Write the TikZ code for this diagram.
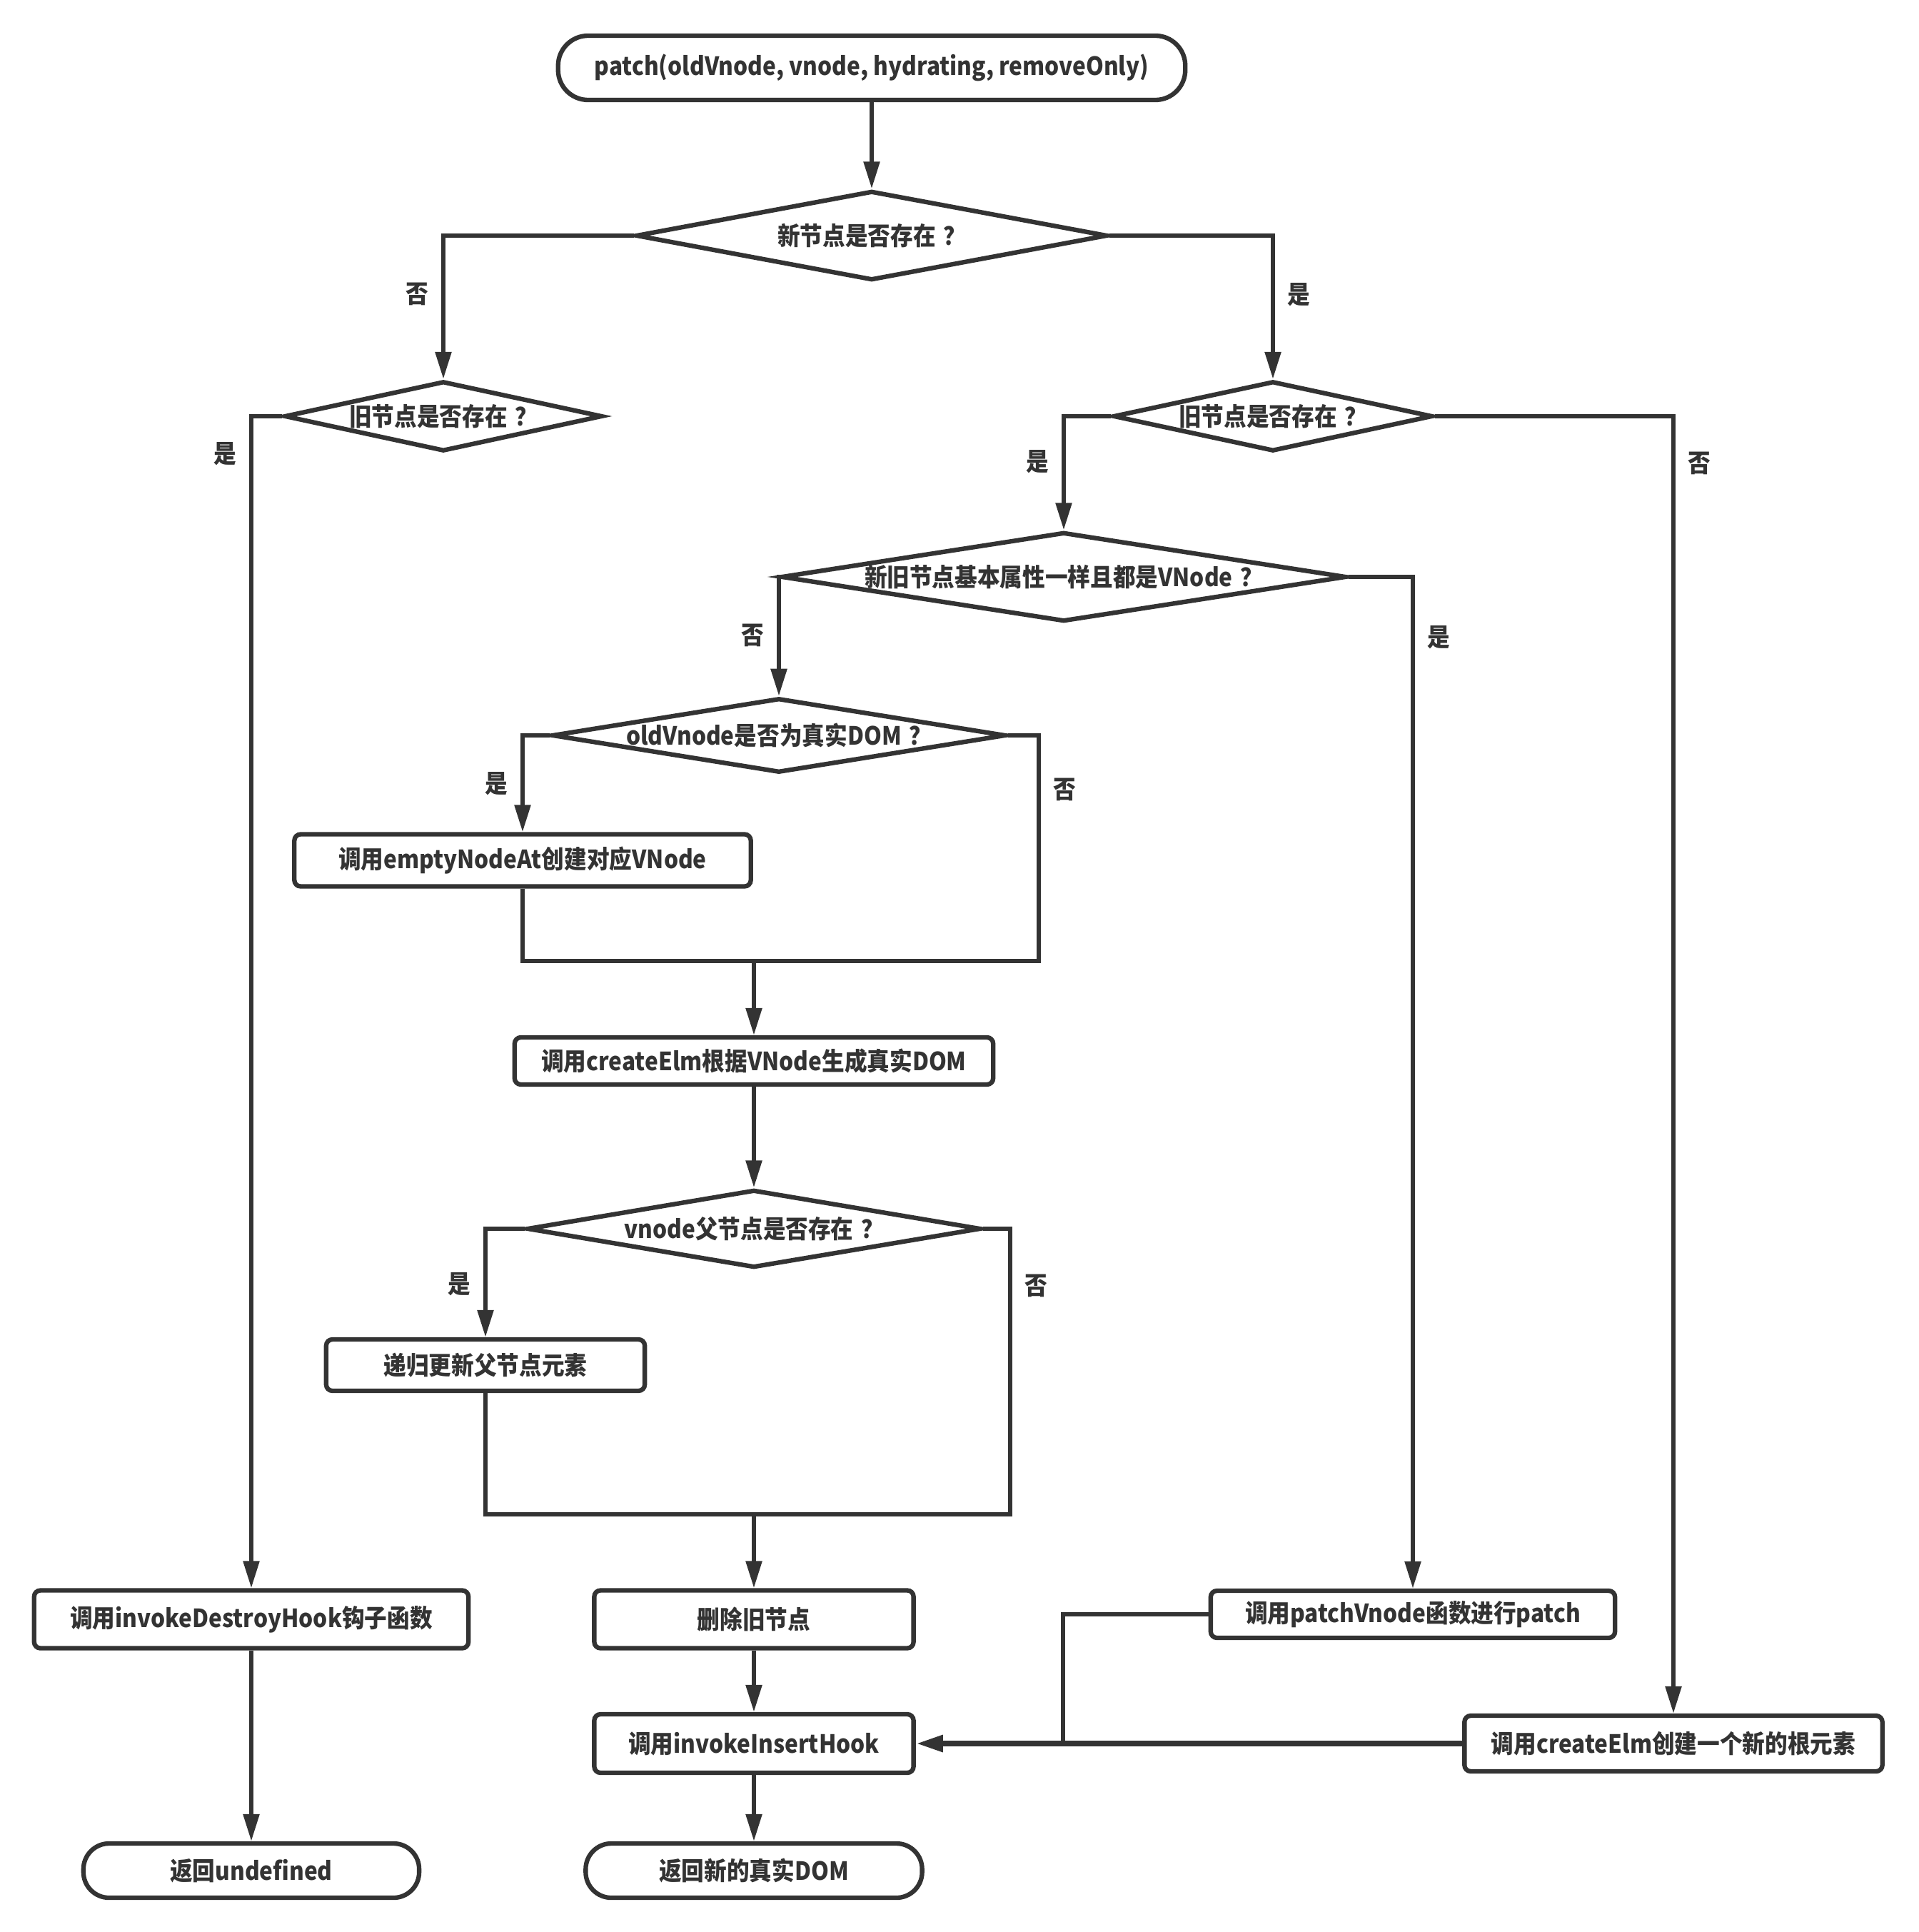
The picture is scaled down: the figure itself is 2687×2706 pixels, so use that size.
\documentclass[tikz,border=0pt]{standalone}
\usepackage{fontspec}
\setmainfont{Noto Sans CJK SC}[FakeStretch=0.9]
\usetikzlibrary{shapes.geometric,arrows.meta,positioning}
\definecolor{linegray}{RGB}{51,51,51}
\newcommand{\qm}{\hspace{0.3em}？}

\begin{document}
\begin{tikzpicture}[x=0.01cm, y=-0.01cm,
    every node/.style={font=\fontsize{10}{12}\selectfont\bfseries, text=linegray},
    box/.style={draw=linegray, line width=1.8pt, rounded corners=2.5pt, inner sep=0pt},
    term/.style={box, rounded corners=0.36cm},
    decision/.style={draw=linegray, line width=1.8pt, diamond, inner sep=0pt},
    line/.style={draw=linegray, line width=1.6pt},
    arrow/.style={line, -{Triangle[length=0.38cm, width=0.22cm]}},
    lbl/.style={inner sep=5pt}
]
    \useasboundingbox (0,0) rectangle (2687,2706);

    \node[term, minimum width=8.78cm, minimum height=0.9cm, rounded corners=0.42cm] (start) at (1221,95) {patch(oldVnode, vnode, hydrating, removeOnly)};
    \node[decision, minimum width=6.6cm, minimum height=1.25cm, aspect=5.3] (d1) at (1221,330) {新节点是否存在\qm};
    \node[decision, minimum width=4.45cm, minimum height=0.98cm, aspect=4.5] (d2) at (621,583) {旧节点是否存在\qm};
    \node[decision, minimum width=4.47cm, minimum height=0.98cm, aspect=4.5] (d3) at (1783,583) {旧节点是否存在\qm};
    \node[decision, minimum width=7.91cm, minimum height=1.25cm, aspect=6.3] (d4) at (1490,808) {新旧节点基本属性一样且都是VNode\qm};
    \node[decision, minimum width=6.31cm, minimum height=1.04cm, aspect=6.1] (d5) at (1091,1030) {oldVnode是否为真实DOM\qm};
    \node[box, minimum width=6.39cm, minimum height=0.73cm] (empty) at (732,1205) {调用emptyNodeAt创建对应VNode};
    \node[box, minimum width=6.70cm, minimum height=0.66cm] (create) at (1056,1486) {调用createElm根据VNode生成真实DOM};
    \node[decision, minimum width=6.35cm, minimum height=1.09cm, aspect=5.8] (d6) at (1056,1721) {vnode父节点是否存在\qm};
    \node[box, minimum width=4.46cm, minimum height=0.72cm] (parent) at (680,1912) {递归更新父节点元素};
    \node[box, minimum width=6.08cm, minimum height=0.81cm] (destroy) at (352,2268) {调用invokeDestroyHook钩子函数};
    \node[box, minimum width=4.47cm, minimum height=0.81cm] (remove) at (1056,2268) {删除旧节点};
    \node[box, minimum width=4.47cm, minimum height=0.82cm] (insert) at (1056,2442) {调用invokeInsertHook};
    \node[box, minimum width=5.66cm, minimum height=0.66cm] (pvnode) at (1979,2261) {调用patchVnode函数进行patch};
    \node[box, minimum width=5.85cm, minimum height=0.78cm] (newroot) at (2344,2442) {调用createElm创建一个新的根元素};
    \node[term, minimum width=4.70cm, minimum height=0.76cm] (retundef) at (352,2620) {返回undefined};
    \node[term, minimum width=4.71cm, minimum height=0.76cm] (retdom) at (1056,2620) {返回新的真实DOM};

    % merge points
    \coordinate (m1) at (1056,1346);
    \coordinate (m1r) at (1455,1346);
    \coordinate (m2) at (1056,2121);
    \coordinate (m2r) at (1415,2121);
    \coordinate (m3) at (1489,2442);

    \draw[arrow] (start) -- (d1);
    \draw[arrow] (d1.west) -| node[lbl, pos=0.705, left] (l1) {否} (d2.north);
    \draw[arrow] (d1.east) -| node[lbl, pos=0.705, right] (l2) {是} (d3.north);
    \draw[arrow] (d2.west) -| node[lbl, pos=0.516, left] (l3) {是} (destroy.north);
    \draw[arrow] (destroy) -- (retundef);
    \draw[arrow] (d3.west) -| node[lbl, pos=0.70, left] (l4) {是} (d4.north);
    \draw[arrow] (d3.east) -| node[lbl, pos=0.518, right] (l5) {否} (newroot.north);
    \draw[arrow] (d4.west) -| node[lbl, pos=0.747, left] (l6) {否} (d5.north);
    \draw[arrow] (d4.east) -| node[lbl, pos=0.53, right] (l7) {是} (pvnode.north);
    \draw[arrow] (d5.west) -| node[lbl, pos=0.75, left] (l8) {是} (empty.north);
    \draw[line] (d5.east) -| node[lbl, pos=0.62, right] (l9) {否} (m1r) -- (m1);
    \draw[line] (empty.south) |- (m1);
    \draw[arrow] (m1) -- (create);
    \draw[arrow] (create) -- (d6);
    \draw[arrow] (d6.west) -| node[lbl, pos=0.755, left] (l10) {是} (parent.north);
    \draw[line] (d6.east) -| node[lbl, pos=0.6, right] (l11) {否} (m2r) -- (m2);
    \draw[line] (parent.south) |- (m2);
    \draw[arrow] (m2) -- (remove);
    \draw[arrow] (remove) -- (insert);
    \draw[arrow] (insert) -- (retdom);
    \draw[line] (pvnode.west) -| (m3);
    \draw[arrow, line width=2.4pt] (newroot.west) -- (insert.east);
\end{tikzpicture}
\end{document}
